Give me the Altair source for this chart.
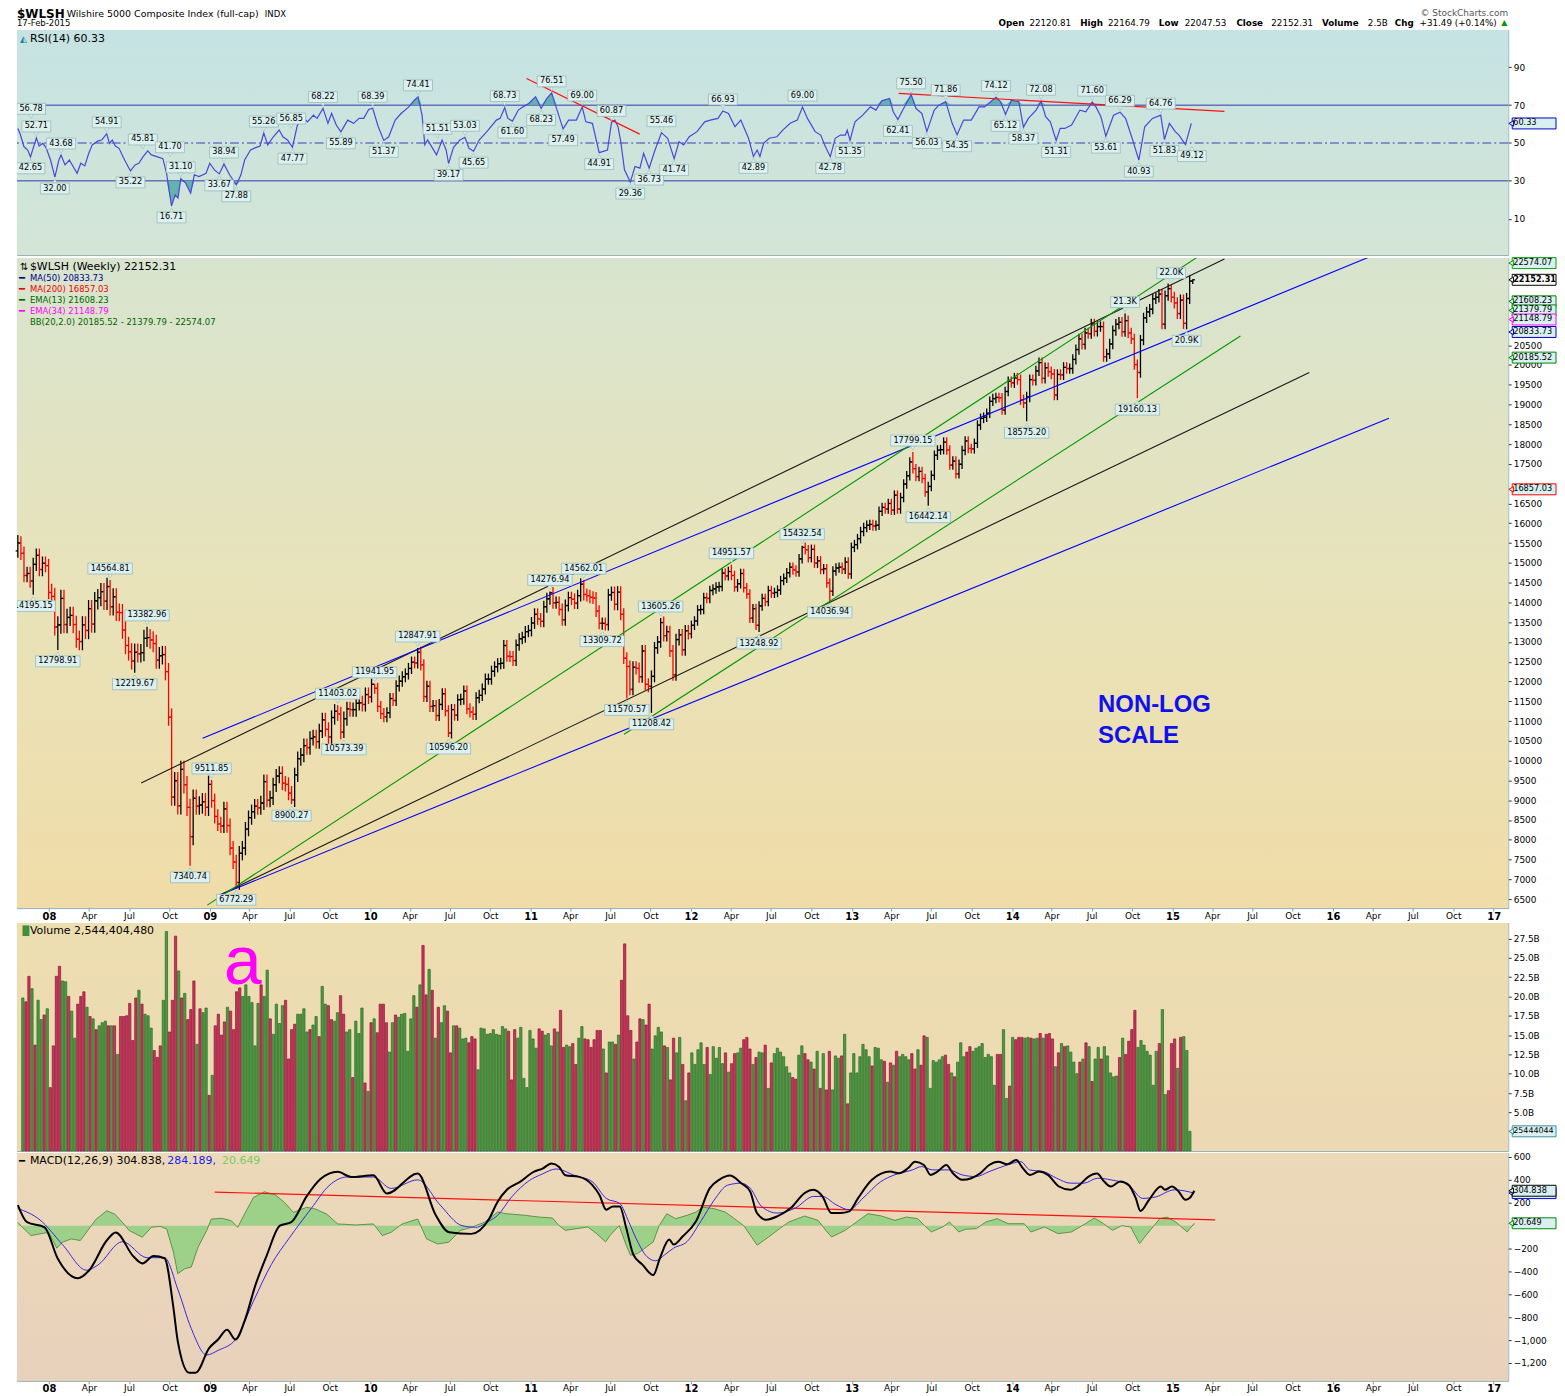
import altair as alt
import pandas as pd
from datetime import datetime, timedelta

FONT = "DejaVu Sans"
START = datetime(2007, 10, 22)      # Monday of the first weekly bar
RSI_K = 3.1 / 3.09
W = 1498

# ---------------- weekly closes ----------------
closes_2007 = [15500, 15240, 14680, 14730, 14540, 14960, 15190, 14830, 14990, 14930]
closes_2008 = [14250, 14150, 13380, 13430, 14100, 13440, 13620, 13670, 13440,
               13070, 13010, 13430, 13290, 13840, 13450, 14040, 14120,
               14270, 14030, 14400, 13890, 14140, 13750, 13740, 13300, 12910,
               12750, 12520, 12740, 12700, 12730, 13090, 13110, 13050, 12960,
               12540, 12650, 12680, 12250, 11100, 9080, 9490, 8860, 9780,
               9390, 8820, 8080, 9050, 8850, 8880, 8960, 8820]
closes_2009 = [9400, 8990, 8590, 8400, 8350, 8780, 8360, 7790, 7440,
               6920, 7660, 7790, 8270, 8560, 8710, 8850, 8810,
               8930, 9470, 9000, 9060, 9390, 9610, 9680, 9430, 9400,
               9180, 9010, 9640, 10050, 10140, 10380, 10330, 10560, 10600,
               10480, 10750, 11030, 10790, 10600, 11090, 11250, 11180, 10720,
               11060, 11310, 11290, 11290, 11450, 11460, 11420, 11670]
closes_2010 = [11610, 11930, 11830, 11370, 11190, 11110, 11210, 11570, 11520,
               11890, 12010, 12120, 12190, 12330, 12490, 12470, 12740, 12420,
               11620, 11880, 11370, 11390, 11140, 11420, 11690, 11260,
               10700, 11290, 11150, 11540, 11550, 11760, 11310, 11230, 11170,
               11590, 11650, 11810, 12060, 12060, 12260, 12370, 12450, 12460,
               12910, 12640, 12630, 12530, 12920, 13080, 13120, 13260, 13290]
closes_2011 = [13480, 13700, 13580, 13520, 13890, 14090, 14240, 13990,
               14000, 13820, 13560, 13920, 14120, 14080, 13980, 14170, 14460,
               14200, 14170, 14130, 14110, 13780, 13470, 13470, 13440,
               14190, 14250, 13950, 14260, 13700, 12590, 12380, 11800, 12360,
               12330, 12120, 12770, 11930, 11880, 12130, 12850, 13000, 13490,
               13160, 13260, 12770, 12170, 13060, 13180, 12800, 13280, 13210]
closes_2012 = [13420, 13530, 13810, 13820, 14120, 14100, 14300, 14340,
               14390, 14400, 14740, 14670, 14780, 14680, 14390, 14470, 14730,
               14370, 14210, 13600, 13840, 13420, 13910, 14100, 14020, 14300,
               14230, 14250, 14310, 14550, 14610, 14750, 14890, 14820, 14770,
               15100, 15390, 15330, 15130, 15340, 14990, 15050, 14830,
               14850, 14490, 14280, 14790, 14870, 14890, 14840, 15020, 14720]
closes_2013 = [15390, 15460, 15610, 15790, 15890, 15950, 15970, 15930,
               15950, 16300, 16400, 16360, 16500, 16330, 16710, 16360, 16650,
               16990, 17200, 17550, 17380, 17180, 17310, 17130, 16790, 16930,
               17210, 17720, 17850, 17860, 18050, 17850, 17470, 17570, 17250,
               17490, 17840, 18080, 17890, 17880, 18020, 18480, 18650,
               18680, 18780, 19080, 19150, 19180, 19170, 18860, 19330, 19590]
closes_2014 = [19550, 19670, 19630, 19120, 19040, 19190, 19630, 19610, 19850,
               20060, 19660, 19930, 19830, 19770, 19240, 19760, 19750,
               19940, 19910, 19910, 20140, 20390, 20660, 20520, 20810, 20790,
               21040, 20850, 20970, 20970, 20210, 20280, 20530, 20870, 21030,
               21080, 20840, 21120, 20810, 20660, 20010, 19810, 20630, 21190,
               21340, 21410, 21670, 21710, 21790, 21030, 21750, 21930]
closes_2015 = [21710, 21570, 21300, 21640, 21050, 21680, 22120.81, 22152.31]
first_open = 15300
last_high, last_low = 22164.79, 22047.53
first_high = 15700
wick_by_year = {2007: 170, 2008: 220, 2009: 180, 2010: 140, 2011: 150,
                2012: 120, 2013: 120, 2014: 130, 2015: 140}

# ---------------- weekly volume, billions ----------------
vol_left = [19.8, 19.3, 22.6, 21.0, 13.7, 19.5, 17.0, 17.6, 18.4, 8.2,
            13.6, 22.6, 23.9, 22.0, 21.9, 20.0, 18.1, 14.6, 19.0, 20.0,
            20.6, 18.6, 17.4, 17.1, 15.7, 16.2, 16.6, 16.8, 16.2, 16.2,
            16.2, 12.5, 17.4, 17.4, 17.5, 19.1, 14.3, 19.8, 20.8, 19.0,
            17.7, 17.5, 15.9, 13.0, 12.1, 13.6, 19.5, 28.4, 15.4, 19.5,
            27.8, 23.3, 19.8, 20.4, 17.0, 18.3, 22.0, 13.8, 18.4, 17.9,
            18.5, 7.2, 9.8, 16.2, 17.7, 15.0, 16.7, 18.6, 18.1, 15.7,
            20.6, 21.1, 20.0, 21.5, 20.0, 19.2, 13.6, 19.1, 21.5, 20.0,
            23.4, 17.1, 15.1, 19.0, 16.5, 18.8, 19.5, 11.9, 15.7, 16.4,
            17.7, 17.7, 18.4, 15.4, 15.7, 16.3, 17.4, 14.8, 21.3, 19.0,
            18.8, 17.0, 16.8, 17.9, 20.1, 17.7, 15.4, 15.7, 9.5, 16.8,
            15.2, 18.5, 8.8, 7.7, 16.6, 17.1, 15.3, 19.0, 19.0, 16.6,
            12.8, 16.6, 17.6, 17.3, 17.7, 17.8, 12.9, 17.1, 20.1, 18.6,
            21.5, 26.6, 20.2, 23.5, 20.8, 14.6, 18.6, 16.6, 18.8, 18.1,
            12.7, 16.2, 16.2, 15.9, 14.5, 14.6, 14.0, 14.8, 14.5, 10.5,
            15.9, 15.8, 15.1, 15.2, 15.7, 15.1]
vol_right = [15.0, 16.1, 15.8, 15.5, 9.2, 15.7, 14.6, 16.0, 9.4, 8.2,
             15.6, 14.5, 13.3, 15.8, 15.5, 15.0, 15.2, 13.6, 15.8, 15.4,
             18.2, 13.4, 13.7, 13.5, 13.9, 11.2, 14.6, 16.1, 14.5, 14.4,
             13.4, 14.4, 15.6, 15.6, 13.2, 10.1, 14.1, 14.1, 13.8, 15.0,
             22.1, 26.8, 17.5, 15.6, 11.9, 14.1, 17.1, 17.0, 16.3, 19.0,
             13.2, 14.9, 16.0, 15.4, 13.6, 13.4, 9.2, 14.6, 12.7, 14.7,
             11.2, 6.5, 10.1, 12.7, 11.2, 13.1, 14.0, 11.2, 13.4, 9.9,
             13.5, 12.0, 13.4, 11.3, 12.7, 10.2, 11.3, 12.6, 12.7, 13.3,
             14.4, 14.7, 13.2, 11.2, 12.1, 12.8, 12.7, 13.7, 8.1, 11.4,
             12.6, 13.3, 12.8, 12.2, 10.9, 10.1, 9.5, 9.3, 12.4, 13.6,
             12.6, 11.8, 11.5, 10.6, 12.9, 8.1, 12.6, 7.9, 12.9, 7.9,
             12.3, 12.0, 12.3, 15.1, 6.1, 10.1, 12.6, 10.1, 12.2, 13.8,
             13.1, 12.2, 11.0, 13.4, 13.3, 11.8, 11.6, 8.9, 11.4, 11.1,
             12.9, 12.2, 12.5, 12.2, 11.8, 12.6, 10.6, 13.1, 11.1, 14.9,
             14.7, 8.1, 11.7, 11.5, 11.8, 12.2, 12.4, 11.2, 10.1,
             9.6, 11.5, 14.0, 12.2, 12.8, 13.5, 12.9, 13.3, 13.5, 13.9,
             12.1, 12.5, 12.2, 8.5, 12.5, 12.5, 15.7, 6.8, 8.4, 14.7,
             14.4, 14.7, 14.7, 14.6, 14.7, 14.6, 14.5, 14.6, 15.2, 14.6,
             15.1, 15.2, 14.5, 10.9, 12.7, 13.9, 13.5, 13.6, 12.8, 11.5,
             10.0, 11.5, 11.9, 14.0, 13.5, 9.0, 11.9, 13.4, 11.9,
             13.5, 12.3, 10.1, 9.6, 9.7, 12.1, 14.6, 12.5, 14.2, 15.7,
             18.2, 13.4, 14.3, 13.7, 12.9, 12.4, 8.5, 12.9, 13.9, 18.3,
             7.3, 7.8, 13.9, 14.5, 10.7, 14.7, 14.8, 13.0, 2.544]

# ---------------- RSI(14): (week, value) vertices ----------------
rsi_points = [
    (0, 57.7), (0.7, 55), (2, 48), (3.2, 46.3), (4.1, 42.65), (6, 52.71), (6.9, 48.4), (8.1, 49.8),
    (9.1, 47.7), (10.6, 41), (12, 32.0), (13.3, 41), (14, 43.68), (15.3, 38.4), (16.7, 41), (19.2, 34),
    (20.4, 39.3), (21.7, 37.9), (22.9, 44.2), (24.1, 49), (26, 51.1), (27.2, 51.6), (28.8, 54.91),
    (29.7, 49.8), (30.6, 51.6), (31.6, 48.4), (32.8, 47.2), (34.6, 41), (36.5, 35.22), (38, 38.4),
    (39.2, 39.3), (40.6, 42.8), (42.1, 45.81), (43.3, 43.7), (45, 42.8), (47, 41.7), (48.2, 34),
    (49.8, 16.71), (51, 22.6), (51.9, 20.9), (52.8, 31.1), (54.4, 28.8), (56, 23.5), (57.2, 33.2),
    (58.7, 32.3), (61, 34), (62.2, 39.3), (63.7, 35.8), (65.3, 33.67), (66.8, 38.94), (68.6, 33.2),
    (70.8, 27.88), (72.3, 33.2), (73.5, 41), (75.4, 46.3), (77.3, 47.7), (78.5, 48.4), (79.7, 55.26),
    (81, 49), (82.8, 53.3), (84.7, 56.85), (85.9, 53.3), (87.4, 51.6), (89, 47.77), (90.6, 59.5),
    (92.7, 63), (93.9, 61.2), (95.8, 64.7), (97, 63), (98.9, 68.22), (100.5, 60.4), (101.7, 65.6),
    (103.2, 59.5), (104.7, 55.89), (106.9, 62.1), (108.8, 60.4), (110.6, 63), (112.1, 63), (113.7, 67.7),
    (115, 68.39), (116.8, 58.6), (118.6, 51.37), (120.2, 53.3), (122.3, 62.1), (124.2, 65.6),
    (126.7, 69.1), (128.5, 72.6), (129.7, 74.41), (131, 64.7), (131.9, 49), (132.8, 51.6), (134.1, 48.1),
    (135.7, 43.7), (137.5, 51.51), (138.8, 46.3), (139.6, 39.17), (141.2, 47.7), (143.3, 51.6),
    (144.9, 53.03), (146.2, 47.2), (147.7, 45.65), (149.5, 51.6), (152, 56), (155.1, 62.1), (156.3, 63),
    (157.8, 68.73), (158.8, 63), (160.3, 61.6), (162.2, 67.4), (163.7, 69.1), (165.6, 70.9), (167.8, 74.4),
    (169.6, 68.23), (171.4, 73.5), (173, 76.51), (174.6, 68.2), (176.7, 57.49), (178.5, 62.1), (181, 62.1),
    (182.9, 69.0), (184.1, 61.2), (186.2, 60.4), (188.4, 44.91), (191.1, 46.3), (192.4, 60.87),
    (193.5, 62.1), (194.5, 58.6), (195.4, 50.7), (196.6, 35.8), (198.5, 29.36), (200, 37.6), (201.6, 36.7),
    (202.8, 44.6), (204.6, 36.73), (206.5, 46.3), (208.6, 55.46), (210.6, 52.5), (212.7, 41.74),
    (214.3, 50.7), (215.8, 49), (217.6, 53.3), (220.1, 56), (222.6, 61.2), (224.4, 62.1), (226.9, 63),
    (228.5, 66.93), (230.3, 65.6), (232.4, 58.6), (234.3, 62.1), (236.8, 52.5), (238.4, 42.89),
    (239.6, 46.3), (240.5, 42.92), (241.7, 49.8), (243.5, 52.5), (246, 53.3), (247.9, 56.8), (250.3, 60.4),
    (252.6, 62.1), (254.3, 69.0), (255.9, 63), (258.4, 56), (260.2, 54.2), (261.7, 48.1), (263.3, 42.78),
    (264.9, 52.5), (266.6, 54.2), (268.2, 54.2), (268.8, 56.8), (269.7, 51.35), (271.3, 61.2),
    (273.8, 64.7), (276.3, 69.1), (278.1, 67.4), (280, 72.3), (282.5, 73.5), (283.7, 66.5), (285.2, 62.41),
    (286.8, 67.4), (289.5, 75.5), (291.1, 68.2), (293, 65.6), (294.6, 56.03), (297, 67.4), (298.5, 70),
    (300.7, 71.86), (302.8, 60.4), (304.4, 54.35), (306.5, 62.1), (309, 62.1), (311.5, 69.1),
    (313.3, 69.1), (314.6, 70.9), (317, 74.12), (318.5, 71.8), (320.1, 65.12), (322, 72.6), (324.4, 71.8),
    (325.9, 58.37), (327.5, 63), (330, 67.4), (331.6, 72.08), (333.1, 63.9), (334.6, 61.2), (336.5, 51.31),
    (337.8, 57.7), (339.3, 57.7), (341.5, 59.5), (344.2, 67.4), (346.1, 66.5), (348.2, 71.6), (349.4, 69.1),
    (351, 63.9), (352.6, 53.61), (355.1, 64.7), (357.2, 66.29), (359, 63), (361.3, 51.6), (363.3, 40.93),
    (365.2, 58.6), (367.7, 63), (370.4, 64.76), (371.6, 51.83), (373.2, 60.4), (375.1, 56), (376.3, 54.2),
    (378.4, 49.12), (380.3, 60.33)]

rsi_labels = [
    (4.3, 62.0, "56.78", "a"), (4.1, 42.65, "42.65", "b"), (6, 52.71, "52.71", "a"), (12, 32.0, "32.00", "b"),
    (14, 43.68, "43.68", "a"), (28.8, 54.91, "54.91", "a"), (36.5, 35.22, "35.22", "b"),
    (40.5, 45.81, "45.81", "a"), (49.3, 41.7, "41.70", "a"), (49.8, 16.71, "16.71", "b"),
    (52.8, 31.1, "31.10", "a"), (66.8, 38.94, "38.94", "a"), (65.3, 33.67, "33.67", "b"),
    (70.8, 27.88, "27.88", "b"), (79.7, 55.26, "55.26", "a"), (88.6, 56.85, "56.85", "a"),
    (89, 47.77, "47.77", "b"), (98.9, 68.22, "68.22", "a"), (104.7, 55.89, "55.89", "b"),
    (115, 68.39, "68.39", "a"), (118.6, 51.37, "51.37", "b"), (129.7, 74.41, "74.41", "a"),
    (136.0, 51.51, "51.51", "a"), (139.6, 39.17, "39.17", "b"), (144.9, 53.03, "53.03", "a"),
    (147.7, 45.65, "45.65", "b"), (157.8, 68.73, "68.73", "a"), (160.3, 61.6, "61.60", "b"),
    (169.6, 68.23, "68.23", "b"), (173, 76.51, "76.51", "a"), (176.7, 57.49, "57.49", "b"),
    (182.9, 69.0, "69.00", "a"), (188.4, 44.91, "44.91", "b"), (192.4, 60.87, "60.87", "a"),
    (198.5, 29.36, "29.36", "b"), (204.6, 36.73, "36.73", "b"), (208.6, 55.46, "55.46", "a"),
    (212.7, 41.74, "41.74", "b"), (228.5, 66.93, "66.93", "a"), (238.4, 42.89, "42.89", "b"),
    (254.3, 69.0, "69.00", "a"), (263.3, 42.78, "42.78", "b"), (269.7, 51.35, "51.35", "b"),
    (285.2, 62.41, "62.41", "b"), (289.5, 75.5, "75.50", "a"), (294.6, 56.03, "56.03", "b"),
    (300.7, 71.86, "71.86", "a"), (304.4, 54.35, "54.35", "b"), (317, 74.12, "74.12", "a"),
    (320.1, 65.12, "65.12", "b"), (325.9, 58.37, "58.37", "b"), (331.6, 72.08, "72.08", "a"),
    (336.5, 51.31, "51.31", "b"), (348.2, 71.6, "71.60", "a"), (352.6, 53.61, "53.61", "b"),
    (357.2, 66.29, "66.29", "a"), (363.3, 40.93, "40.93", "b"), (370.4, 64.76, "64.76", "a"),
    (371.6, 51.83, "51.83", "b"), (380.5, 49.12, "49.12", "b")]

rsi_trends = [(165.4, 84.05, 202.2, 54.7), (286.4, 76.2, 392.3, 66.7)]

# ---------------- price labels and trend lines ----------------
price_labels = [
    (5, 14195.15, "14195.15", "b"), (13, 12798.91, "12798.91", "b"), (30, 14564.81, "14564.81", "a"),
    (38, 12219.67, "12219.67", "b"), (42, 13382.96, "13382.96", "a"), (56, 7340.74, "7340.74", "b"),
    (63, 9511.85, "9511.85", "a"), (71, 6772.29, "6772.29", "b"), (89, 8900.27, "8900.27", "b"),
    (104, 11403.02, "11403.02", "a"), (106, 10573.39, "10573.39", "b"), (116, 11941.95, "11941.95", "a"),
    (130, 12847.91, "12847.91", "a"), (140, 10596.20, "10596.20", "b"), (173, 14276.94, "14276.94", "a"),
    (184, 14562.01, "14562.01", "a"), (190, 13309.72, "13309.72", "b"), (198, 11570.57, "11570.57", "b"),
    (206, 11208.42, "11208.42", "b"), (209, 13605.26, "13605.26", "a"), (232, 14951.57, "14951.57", "a"),
    (241, 13248.92, "13248.92", "b"), (255, 15432.54, "15432.54", "a"), (264, 14036.94, "14036.94", "b"),
    (291, 17799.15, "17799.15", "a"), (296, 16442.14, "16442.14", "b"), (328, 18575.20, "18575.20", "b"),
    (360, 21300, "21.3K", "a"), (364, 19160.13, "19160.13", "b"), (375, 22030, "22.0K", "a"),
    (380, 20900, "20.9K", "b")]

price_trends = [("k1", "#1a1a1a", 40.1, 9436, 392.3, 22678),
                ("b1", "#0000ff", 60.1, 10568, 442.5, 22829),
                ("g1", "#009900", 61.6, 6349, 387.5, 22929),
                ("g2", "#009900", 197.1, 10669, 397.5, 20733),
                ("k2", "#1a1a1a", 65.5, 6600, 419.9, 19810),
                ("b2", "#0000ff", 65.5, 6600, 445.8, 18652)]

price_markers = [(22574.07, "#00a000", False), (22152.31, "#000000", True), (21608.23, "#008800", False),
                 (21379.79, "#008800", False), (21148.79, "#ff00ff", False), (20833.73, "#0000cc", False),
                 (20185.52, "#008800", False), (16857.03, "#ff0000", False)]
price_ticks = [v for v in range(6500, 20501, 500) if v != 17000]

# ---------------- MACD(12,26,9) vertices ----------------
macd_points = [
    (0, 180), (3, 30), (8.7, -15), (13, -290), (19.5, -460), (23.2, -390), (28.9, -130), (31.8, -60),
    (37.6, -270), (40.5, -330), (44.1, -265), (47.7, -285), (50.6, -720), (52, -1010), (55.7, -1285),
    (57.8, -1285), (62.2, -1070), (65.1, -995), (68, -910), (70.8, -995), (73.7, -835), (77.3, -516),
    (81, -255), (85.2, 0), (88.9, 30), (94, 260), (98.3, 405), (104, 470), (108.4, 425), (115.6, 440),
    (120, 280), (130, 455), (135.9, 90), (140.2, -58), (147.4, -72), (153.2, 58), (156, 209), (159, 313),
    (163.4, 385), (167.7, 470), (170.6, 499), (173.5, 542), (176, 513), (178, 440), (182.5, 426),
    (186.8, 354), (189.1, 268), (191.3, 139), (193.5, 168), (195.7, 168), (197.8, -20), (200.1, -252),
    (203, -339), (206.6, -432), (208.8, -281), (211.8, -122), (213.2, -165), (216.2, -93), (220.5, 38),
    (225, 328), (228, 400), (231.5, 438), (235.2, 371), (238.1, 299), (240.3, 110), (243.3, 52),
    (246.9, 81), (251.3, 154), (255.8, 284), (258.7, 313), (261.6, 255), (264.5, 110), (267.4, 110),
    (270.3, 125), (273.2, 241), (277.7, 400), (283.6, 472), (286.5, 458), (289.4, 501), (291.7, 559),
    (294.6, 530), (296.8, 443), (299, 472), (301.9, 530), (304, 458), (307.1, 400), (310, 414),
    (312.9, 458), (315.8, 530), (318.8, 559), (321.7, 536), (324.6, 574), (326.8, 501), (329, 443),
    (332, 472), (334.9, 443), (338.5, 342), (342.2, 313), (345.1, 354), (348, 426), (350.9, 455),
    (353.2, 385), (355.4, 342), (358.4, 385), (361.2, 354), (363.5, 238), (365, 128), (367.8, 226),
    (371.6, 342), (373, 313), (375.2, 342), (377.4, 299), (379.6, 226), (381, 241), (382.5, 304.8)]
signal_points = [
    (0, 150), (7.2, 50), (14.5, -165), (22.4, -390), (26, -345), (34, -140), (42, -280), (47.7, -280),
    (52, -555), (56.4, -900), (61.4, -1130), (65.1, -1090), (70.8, -995), (76.6, -660), (82.4, -340),
    (88.2, -110), (95.4, 150), (101.2, 350), (107, 425), (115.6, 425), (121.4, 325), (130, 400),
    (137.3, 180), (144.4, 0), (148.9, -15), (153.2, 40), (156, 90), (160.5, 249), (166.3, 394),
    (170.6, 452), (175, 495), (180.9, 440), (186.8, 383), (191.3, 238), (195.7, 194), (198.6, 35),
    (201.5, -139), (204.5, -270), (207.4, -307), (210.3, -255), (213.2, -197), (217.6, -139), (222, 35),
    (226.4, 223), (230.8, 354), (235.2, 371), (238.1, 328), (241.8, 168), (246.9, 110), (252.8, 154),
    (258.7, 255), (261.6, 255), (266, 183), (270.3, 139), (274.8, 241), (280.6, 385), (285, 443),
    (290.9, 487), (293.8, 516), (297.5, 487), (302.6, 487), (307.1, 443), (311.5, 429), (315.8, 472),
    (321.7, 530), (326.1, 559), (329, 487), (333.5, 472), (337.8, 414), (342.2, 371), (346.6, 371),
    (351, 414), (355.4, 400), (361.2, 354), (365.7, 238), (370.1, 252), (376, 313), (382.5, 284.2)]
hist_points = [
    (0, 29), (1.5, -15), (4.3, -87), (7.2, -72), (10, -58), (12.7, -197), (14.5, -145), (17.4, -116),
    (20.3, -130), (23.1, -29), (25.3, 52), (28.9, 130), (31.5, 101), (34, 29), (36.2, -43), (40.5, -101),
    (43.4, -15), (46.2, -6), (48.4, -29), (50.6, -232), (52, -420), (54.2, -377), (56.4, -362),
    (58.6, -188), (61.4, -43), (62.9, 58), (66.4, 64), (69.4, 43), (71.5, -15), (73.7, 101), (76.6, 246),
    (80.2, 296), (83.8, 267), (86.7, 203), (89.6, 116), (93.9, 160), (96.8, 145), (100.4, 101), (104, 15),
    (109.8, 6), (115.6, 15), (118.5, -87), (121.4, -58), (125, 15), (130, 58), (132.9, -116),
    (136.5, -160), (140.1, -145), (143.8, -43), (147.4, -15), (151.7, 29), (156, 119), (159, 104),
    (165, 90), (169.4, 75), (173.8, 67), (176, 0), (178, -41), (185.3, -12), (188.2, -70), (191.1, -142),
    (192.6, -84), (195.5, 0), (197.8, -171), (199.2, -258), (201.5, -244), (204.4, -186), (206.6, -142),
    (208.5, 0), (211, 104), (213.9, 61), (217.6, 90), (220.5, 119), (222.7, 162), (226.4, 148),
    (230, 119), (233, 61), (236, 0), (240.4, -171), (244.1, -99), (247.7, -26), (250.7, 32), (255.8, 84),
    (260.2, 46), (263.1, -55), (264.6, -99), (269, -41), (273.4, 46), (276.4, 104), (280.8, 84),
    (285.2, 46), (288.9, 75), (292.6, 61), (294.8, 0), (297, -55), (300.7, -12), (302.9, 32),
    (305.9, -55), (308.1, -32), (311.7, -26), (314.7, 32), (318.4, 61), (322, 17), (327.2, 17),
    (329.4, -55), (333.8, -12), (338.2, -70), (342.6, -55), (347.1, 17), (350, 67), (353, 17),
    (355.9, -41), (358.9, 0), (361.8, -12), (364.7, -157), (367.7, -55), (371.3, 61), (373.6, 75),
    (376.5, 32), (380.2, -55), (382.5, 20.6)]
macd_trend = [(64, 293, 389.3, 50)]
macd_ticks = [-1200, -1000, -800, -600, -400, -200, 200, 400, 600]

# ================= build tables =================
closes = (closes_2007 + closes_2008 + closes_2009 + closes_2010 + closes_2011 +
          closes_2012 + closes_2013 + closes_2014 + closes_2015)
volume = vol_left + vol_right
assert len(closes) == 383, len(closes)
assert len(volume) == 383, len(volume)


def wd(i, k=1.0):
    return (START + timedelta(days=7.0 * i * k)).strftime("%Y-%m-%dT%H:%M:%S")


hi_marks = {int(w): v for w, v, t, p in price_labels if p == "a"}
lo_marks = {int(w): v for w, v, t, p in price_labels if p == "b"}
hi_marks[0] = first_high
rows = []
for i, c in enumerate(closes):
    o = closes[i - 1] if i else first_open
    d = START + timedelta(days=7 * i)
    wk = wick_by_year[d.year]
    hi, lo = max(o, c) + wk, min(o, c) - wk
    if i in hi_marks:
        hi = max(hi_marks[i], o, c)
    if i in lo_marks:
        lo = min(lo_marks[i], o, c)
    if i == len(closes) - 1:
        hi, lo = last_high, last_low
    rows.append({"date": wd(i), "open": o, "close": c, "hi": hi, "lo": lo,
                 "dir": "up" if c >= o else "down", "vol": volume[i]})
pdf = pd.DataFrame(rows)

# ================= helpers =================
X_SCALE = alt.Scale(domain=[alt.DateTime(year=2007, month=10, date=20),
                            alt.DateTime(year=2017, month=2, date=3)])
TICKS = [alt.DateTime(year=y, month=m, date=1) for y in range(2008, 2018) for m in (1, 4, 7, 10)
         if not (y == 2017 and m > 1)]
X_AXIS = alt.Axis(values=TICKS, title=None, grid=False,
                  labelExpr="month(datum.value) == 0 ? timeFormat(datum.value, '%y') : timeFormat(datum.value, '%b')",
                  labelFontWeight={"condition": {"test": "month(datum.value) == 0", "value": "bold"}, "value": "normal"},
                  labelFontSize={"condition": {"test": "month(datum.value) == 0", "value": 10}, "value": 9},
                  labelFont=FONT, labelColor="#000", tickSize=3, tickColor="#7f9ca6",
                  domainColor="#9ab6be", domainDash=[2, 2], labelPadding=0,
                  labelOverlap=False, labelFlush=False)


def YAX(values, expr=None, fmt=None):
    kw = dict(orient="right", values=values, grid=False, domain=False, ticks=True, tickSize=3,
              tickColor="#333", labelFont=FONT, labelFontSize=9, labelColor="#000", labelPadding=2,
              labelOverlap=False, labelFlush=False, title=None)
    if expr:
        kw["labelExpr"] = expr
    if fmt:
        kw["format"] = fmt
    return alt.Axis(**kw)


class Panel:
    """Carries the x axis, y scale and y axis shared by every layer of one panel."""
    def __init__(self, yscale, yaxis, xaxis):
        self.ys, self.ya, self.xa = yscale, yaxis, xaxis

    def x(self):
        return alt.X("date:T", scale=X_SCALE, axis=self.xa, title=None)

    def y(self, field):
        return alt.Y(f"{field}:Q", scale=self.ys, axis=self.ya, title=None)


ONE = alt.Data(values=[{"k": 1}])


def txt(text, x, y, size=9, bold=False, color="#000", align="left", font=FONT, clip=False, baseline="middle"):
    return alt.Chart(ONE).mark_text(text=text, align=align, baseline=baseline, font=font,
                                    fontSize=size, fontWeight="bold" if bold else "normal",
                                    color=color, clip=clip).encode(x=alt.value(x), y=alt.value(y))


def grad(c1, c2, c3=None):
    stops = [alt.GradientStop(color=c1, offset=0)]
    if c3:
        stops.append(alt.GradientStop(color=c2, offset=0.5))
        stops.append(alt.GradientStop(color=c3, offset=1))
    else:
        stops.append(alt.GradientStop(color=c2, offset=1))
    return alt.LinearGradient(gradient="linear", stops=stops, x1=0, x2=0, y1=0, y2=1)


def backdrop(h, g):
    return alt.Chart(ONE).mark_rect(fill=g, strokeWidth=0).encode(
        x=alt.value(0), x2=alt.value(W), y=alt.value(0), y2=alt.value(h))


BOXF, BOXS = "#dcf1ef", "#98b9ba"


def box_labels(items, P, k=1.0, fs=8.2):
    df = pd.DataFrame([{"date": wd(w, k), "v": v, "t": t, "p": p, "L": len(t)} for w, v, t, p in items])
    layers = []
    for (L, pos), g in df.groupby(["L", "p"]):
        bw = L * 5.2 + 3
        up = pos == "a"
        y0, y1 = (-17, -6) if up else (6, 17)
        base = alt.Chart(g)
        enc = dict(x=P.x(), y=P.y("v"))
        layers.append(base.mark_point(shape="triangle-down" if up else "triangle-up", size=22, filled=True,
                                      fill=BOXF, stroke=BOXS, strokeWidth=0.6, opacity=1,
                                      yOffset=-4 if up else 4, clip=True).encode(**enc))
        layers.append(base.mark_rect(fill=BOXF, stroke=BOXS, strokeWidth=0.8, xOffset=-bw / 2,
                                     x2Offset=bw / 2, yOffset=y0, y2Offset=y1, clip=True)
                      .encode(x2=alt.X2("date:T"), y2=alt.Y2("v:Q"), **enc))
        layers.append(base.mark_text(font=FONT, fontSize=fs, color="#000", baseline="middle",
                                     yOffset=(y0 + y1) / 2, clip=True).encode(text="t:N", **enc))
    return layers


def marker(value, text, stroke, P, bold=False, fill="#d8f0ef", fs=8.2):
    base = alt.Chart(alt.Data(values=[{"v": value, "t": text}]))
    y = P.y("v")
    return [
        base.mark_rect(fill=fill, stroke=stroke, strokeWidth=1, yOffset=-5.5, y2Offset=5.5)
            .encode(x=alt.value(W + 4), x2=alt.value(W + 48), y=y, y2=alt.Y2("v:Q")),
        base.mark_point(shape="triangle-left", size=30, filled=True, fill=fill, stroke=stroke,
                        strokeWidth=1, opacity=1).encode(x=alt.value(W + 3), y=y),
        base.mark_text(align="left", baseline="middle", font=FONT, fontSize=fs,
                       fontWeight="bold" if bold else "normal", color="#000")
            .encode(x=alt.value(W + 5), y=y, text="t:N"),
    ]


def seg_df(segs, k=1.0):
    out = []
    for n, s in enumerate(segs):
        out.append({"id": n, "date": wd(s[0], k), "v": s[1]})
        out.append({"id": n, "date": wd(s[2], k), "v": s[3]})
    return pd.DataFrame(out)


# ================= header =================
hdr_items = [
    txt("$WLSH", 0, 8, size=12, bold=True),
    txt("Wilshire 5000 Composite Index (full-cap)", 50, 8, size=9.5),
    txt("INDX", 249, 8, size=8.5),
    txt("\u00a9 StockCharts.com", W, 7, size=9, color="#555", align="right"),
    txt("17-Feb-2015", 0, 17, size=8.5),
]
for x, t, b in [(986, "Open", True), (1017, "22120.81", False), (1068, "High", True),
                (1096, "22164.79", False), (1147, "Low", True), (1173, "22047.53", False),
                (1225, "Close", True), (1260, "22152.31", False), (1311, "Volume", True),
                (1357, "2.5B", False), (1384, "Chg", True), (1409, "+31.49 (+0.14%)", False)]:
    hdr_items.append(txt(t, x, 17, size=8.8, bold=b))
hdr_items.append(txt("\u25b2", 1491, 17, size=8, color="#009900"))
header = alt.layer(*hdr_items).properties(
    width=W, height=21.5, view=alt.ViewBackground(stroke="transparent", fill="#ffffff"))

# ================= RSI panel =================
RSI_H = 226
PR = Panel(alt.Scale(domain=[-9.2, 109.7], nice=False, zero=False), YAX([10, 30, 50, 70, 90]), None)
rsi_df = pd.DataFrame({"date": [wd(w, RSI_K) for w, v in rsi_points], "r": [v for w, v in rsi_points]})
rb = alt.Chart(rsi_df)
rsi_layers = [
    backdrop(RSI_H, grad("#c5e3e3", "#d4e5d6")),
    alt.Chart(pd.DataFrame({"y": [70, 30]})).mark_rule(color="#3434a8", strokeWidth=1).encode(y=PR.y("y")),
    rb.transform_calculate(top="max(datum.r, 70)", lvl="70").mark_area(color="#5aabab", opacity=0.9)
      .encode(x=PR.x(), y=PR.y("top"), y2="lvl:Q"),
    rb.transform_calculate(bot="min(datum.r, 30)", lvl="30").mark_area(color="#5aabab", opacity=0.9)
      .encode(x=PR.x(), y=PR.y("bot"), y2="lvl:Q"),
    alt.Chart(pd.DataFrame({"y": [50]})).mark_rule(color="#3c3cb8", strokeWidth=1, strokeDash=[9, 3, 2, 3])
      .encode(y=PR.y("y")),
    rb.mark_line(color="#4848d8", strokeWidth=1.2).encode(x=PR.x(), y=PR.y("r")),
    alt.Chart(seg_df(rsi_trends)).mark_line(color="#ff1010", strokeWidth=1.2, clip=True)
      .encode(x=PR.x(), y=PR.y("v"), detail="id:N"),
]
rsi_layers += box_labels(rsi_labels, PR, k=RSI_K)
rsi_layers += [txt("\u25ed", 3, 9, size=9, color="#2a7f9a"), txt("RSI(14) 60.33", 13, 9, size=11)]
rsi_layers += marker(60.33, "60.33", "#0000cc", PR)
rsi = alt.layer(*rsi_layers).properties(width=W, height=RSI_H)

# ================= price panel =================
PP = Panel(alt.Scale(domain=[6274, 22703], nice=False, zero=False), YAX(price_ticks, fmt="d"), X_AXIS)
DIR = alt.Scale(domain=["up", "down"], range=["#000000", "#ff0000"])
pb = alt.Chart(pdf)
price_layers = [backdrop(653, grad("#d8e4cf", "#e8e3ba", "#f0dca8"))]
price_layers += [
    pb.mark_rule(strokeWidth=1.3).encode(
        x=PP.x(), y=PP.y("lo"), y2="hi:Q", color=alt.Color("dir:N", scale=DIR, legend=None)),
    pb.mark_rule(strokeWidth=1.3, xOffset=-2.2).encode(
        x=PP.x(), x2=alt.X2("date:T"), y=PP.y("open"), color=alt.Color("dir:N", scale=DIR, legend=None)),
    pb.mark_rule(strokeWidth=1.3, x2Offset=2.2).encode(
        x=PP.x(), x2=alt.X2("date:T"), y=PP.y("close"), color=alt.Color("dir:N", scale=DIR, legend=None)),
]
tr = pd.DataFrame([r for n, c, a, b, e, f in price_trends
                   for r in ({"id": n, "c": c, "date": wd(a), "v": b}, {"id": n, "c": c, "date": wd(e), "v": f})])
for col in ["#1a1a1a", "#0000ff", "#009900"]:
    price_layers.append(alt.Chart(tr[tr["c"] == col]).mark_line(color=col, strokeWidth=1.1, clip=True)
                        .encode(x=PP.x(), y=PP.y("v"), detail="id:N"))
price_layers += box_labels(price_labels, PP)
legend_rows = [("$WLSH (Weekly) 22152.31", "#000000", 11, None),
               ("MA(50) 20833.73", "#000088", 8.5, "#000088"),
               ("MA(200) 16857.03", "#ee0000", 8.5, "#ee0000"),
               ("EMA(13) 21608.23", "#006600", 8.5, "#006600"),
               ("EMA(34) 21148.79", "#ff00ff", 8.5, "#ff00ff"),
               ("BB(20,2.0) 20185.52 - 21379.79 - 22574.07", "#006600", 8.5, None)]
for n, (t, c, s, dash) in enumerate(legend_rows):
    price_layers.append(txt(t, 13, 9 + 11 * n, size=s, color=c))
    if dash:
        price_layers.append(txt("\u2501", 2, 9 + 11 * n, size=10, color=dash))
price_layers.append(txt("\u21c5", 3, 9, size=10))
price_layers += [txt("NON-LOG", 1086, 449, size=24, bold=True, color="#1010ee", font="Liberation Sans"),
                 txt("SCALE", 1086, 480, size=24, bold=True, color="#1010ee", font="Liberation Sans")]
for v, c, b in price_markers:
    price_layers += marker(v, f"{v:.2f}", c, PP, bold=b, fill="#ffffff" if b else "#d8f0ef")
price = alt.layer(*price_layers).properties(width=W, height=653)

# ================= volume panel =================
PV = Panel(alt.Scale(domain=[0, 29.5], nice=False, zero=True),
           YAX([5, 7.5, 10, 12.5, 15, 17.5, 20, 22.5, 25, 27.5], expr="format(datum.value, '.1f') + 'B'"),
           None)
vol_layers = [
    backdrop(229, grad("#eddeb0", "#ecd8b4")),
    pb.mark_bar(width=2.3, strokeWidth=0.7).encode(
        x=PV.x(), y=PV.y("vol"),
        fill=alt.Fill("dir:N", scale=alt.Scale(domain=["up", "down"], range=["#4d9a43", "#c8345a"]), legend=None),
        stroke=alt.Stroke("dir:N", scale=alt.Scale(domain=["up", "down"], range=["#2c6a25", "#8e1638"]), legend=None)),
    txt("a", 208, 61, size=68, color="#ff00ff", font="Liberation Sans", baseline="alphabetic"),
    txt("\u2590\u258c", 2, 8, size=9, color="#3f8f3a"),
    txt("Volume 2,544,404,480", 13, 8, size=11),
]
vol_layers += marker(2.544, "25444044", "#3c8fa0", PV, fs=8)
vol = alt.layer(*vol_layers).properties(width=W, height=229)

# ================= MACD panel =================
PM = Panel(alt.Scale(domain=[-1357, 635], nice=False, zero=False), YAX(macd_ticks), X_AXIS)
hdf = pd.DataFrame({"date": [wd(w) for w, v in hist_points], "h": [v for w, v in hist_points], "z": 0})
mdf = pd.DataFrame({"date": [wd(w) for w, v in macd_points], "m": [v for w, v in macd_points]})
sdf = pd.DataFrame({"date": [wd(w) for w, v in signal_points], "s": [v for w, v in signal_points]})
macd_layers = [
    backdrop(229, grad("#ecd9b8", "#e8d1bc")),
    alt.Chart(hdf).mark_area(color="#9dd088", opacity=1).encode(x=PM.x(), y=PM.y("h"), y2="z:Q"),
    alt.Chart(hdf).mark_line(color="#4f8d40", strokeWidth=0.9).encode(x=PM.x(), y=PM.y("h")),
    alt.Chart(seg_df(macd_trend)).mark_line(color="#ff1010", strokeWidth=1.2, clip=True)
      .encode(x=PM.x(), y=PM.y("v"), detail="id:N"),
    alt.Chart(sdf).mark_line(color="#3a22e6", strokeWidth=1, interpolate="monotone").encode(x=PM.x(), y=PM.y("s")),
    alt.Chart(mdf).mark_line(color="#000000", strokeWidth=2, interpolate="monotone").encode(x=PM.x(), y=PM.y("m")),
    txt("\u2501", 2, 8, size=10),
    txt("MACD(12,26,9) 304.838,", 13, 8, size=11),
    txt("284.189,", 151, 8, size=11, color="#2020ee"),
    txt("20.649", 206, 8, size=11, color="#77cc66"),
]
macd_layers += marker(284.189, "284.189", "#0000ff", PM)
macd_layers += marker(304.838, "304.838", "#000000", PM)
macd_layers += marker(20.649, "20.649", "#008800", PM)
macd = alt.layer(*macd_layers).properties(width=W, height=229)

chart = alt.vconcat(header, rsi, price, vol, macd, spacing=0).properties(
    padding={"left": 5, "top": -6, "right": 0, "bottom": 0}, background="#ffffff"
).configure_view(stroke="#93b0b8", strokeWidth=1)

chart.save("out.html", embed_options={"renderer": "svg", "actions": False})
